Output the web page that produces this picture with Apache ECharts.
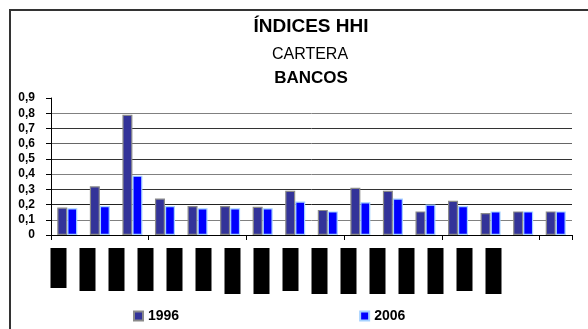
<!DOCTYPE html>
<html>
<head>
<meta charset="utf-8">
<script src="https://cdn.jsdelivr.net/npm/echarts@6/dist/echarts.min.js"></script>
<style>
html,body{margin:0;padding:0;background:#fff;}
#chart{width:588px;height:329px;}
</style>
</head>
<body>
<div id="chart"></div>
<script>
// Categories (bank names are redacted in the reference: shown as black boxes)
const categories = ['Banco 1','Banco 2','Banco 3','Banco 4','Banco 5','Banco 6','Banco 7','Banco 8',
                    'Banco 9','Banco 10','Banco 11','Banco 12','Banco 13','Banco 14','Banco 15','Banco 16'];
const seriesNames = ['1996', '2006'];
const values1996 = [0.18, 0.32, 0.79, 0.24, 0.19, 0.19, 0.185, 0.29, 0.165, 0.31, 0.29, 0.155, 0.225, 0.145, 0.155, 0.155];
const values2006 = [0.175, 0.19, 0.39, 0.19, 0.175, 0.175, 0.175, 0.22, 0.155, 0.215, 0.24, 0.20, 0.19, 0.155, 0.155, 0.155];
const yTicks = [0, 0.1, 0.2, 0.3, 0.4, 0.5, 0.6, 0.7, 0.8, 0.9];
// redaction box class per category label (label length in the original)
const redactClass = ['s','m','m','m','m','m','l','l','m','l','l','l','l','l','m','l'];

const FONT = 'Liberation Sans, Arial, sans-serif';
const chart = echarts.init(document.getElementById('chart'));

chart.setOption({
  animation: false,
  backgroundColor: '#fff',
  title: [
    { text: 'ÍNDICES HHI', left: 311, top: 17, textAlign: 'center', padding: 0,
      textStyle: { fontFamily: FONT, fontSize: 19, fontWeight: 'bold', color: '#000' } },
    { text: 'CARTERA', left: 310, top: 47, textAlign: 'center', padding: 0,
      textStyle: { fontFamily: FONT, fontSize: 16, fontWeight: 'normal', color: '#000' } },
    { text: 'BANCOS', left: 311, top: 70, textAlign: 'center', padding: 0,
      textStyle: { fontFamily: FONT, fontSize: 17, fontWeight: 'bold', color: '#000' } }
  ],
  graphic: [
    { type: 'rect', shape: { x: 10, y: 10, width: 700, height: 500 }, silent: true,
      style: { fill: 'none', stroke: '#333', lineWidth: 2 } }
  ],
  legend: {
    data: seriesNames,
    left: 128, top: 304,
    itemWidth: 9, itemHeight: 9, itemGap: 180,
    icon: 'rect',
    textStyle: { fontFamily: FONT, fontSize: 14, fontWeight: 'bold', color: '#000' }
  },
  grid: [
    { left: 51, right: 16, top: 98, bottom: 94 },
    { left: 44, width: 464, top: 98, bottom: 94 }
  ],
  xAxis: [
    {
      type: 'category', data: categories, gridIndex: 0,
      axisLine: { lineStyle: { color: '#000', width: 1 } },
      axisTick: { show: true, length: 5, alignWithLabel: false, lineStyle: { color: '#000' } },
      axisLabel: { show: false }
    },
    {
      type: 'category', data: categories, gridIndex: 1,
      axisLine: { show: false }, axisTick: { show: false }, splitLine: { show: false },
      axisLabel: {
        interval: 0, margin: 13,
        formatter: function (v, i) { return '{' + redactClass[i] + '|' + v + '}'; },
        rich: {
          s: { width: 16, height: 40, backgroundColor: '#000', color: '#000', fontSize: 1, overflow: 'truncate' },
          m: { width: 16, height: 43, backgroundColor: '#000', color: '#000', fontSize: 1, overflow: 'truncate' },
          l: { width: 16, height: 46, backgroundColor: '#000', color: '#000', fontSize: 1, overflow: 'truncate' }
        }
      }
    }
  ],
  yAxis: [
    {
      type: 'value', gridIndex: 0, min: 0, max: 0.9, interval: 0.1,
      axisLine: { show: true, lineStyle: { color: '#000', width: 1 } },
      axisTick: { show: true, length: 5, lineStyle: { color: '#000' } },
      axisLabel: {
        margin: 16, fontFamily: FONT, fontSize: 12, fontWeight: 'bold', color: '#000',
        formatter: function (v) { return v === 0 ? '0' : v.toFixed(1).replace('.', ','); }
      },
      splitLine: { show: true, lineStyle: { width: 1,
        color: ['#000', '#808080', '#222', '#333', '#808080', '#333', '#666', '#333', '#808080', 'rgba(0,0,0,0)'] } }
    },
    { type: 'value', gridIndex: 1, show: false, min: 0, max: 0.9 }
  ],
  series: [
    {
      name: seriesNames[0], type: 'bar', data: values1996, xAxisIndex: 0, yAxisIndex: 0,
      barWidth: 10, barGap: '0%',
      itemStyle: { color: '#333399', borderColor: '#8a8a8a', borderWidth: 1.2 }
    },
    {
      name: seriesNames[1], type: 'bar', data: values2006, xAxisIndex: 0, yAxisIndex: 0,
      barWidth: 10,
      itemStyle: { color: '#0000ff', borderColor: '#a6d2ff', borderWidth: 1.2 }
    }
  ]
});
</script>
</body>
</html>
